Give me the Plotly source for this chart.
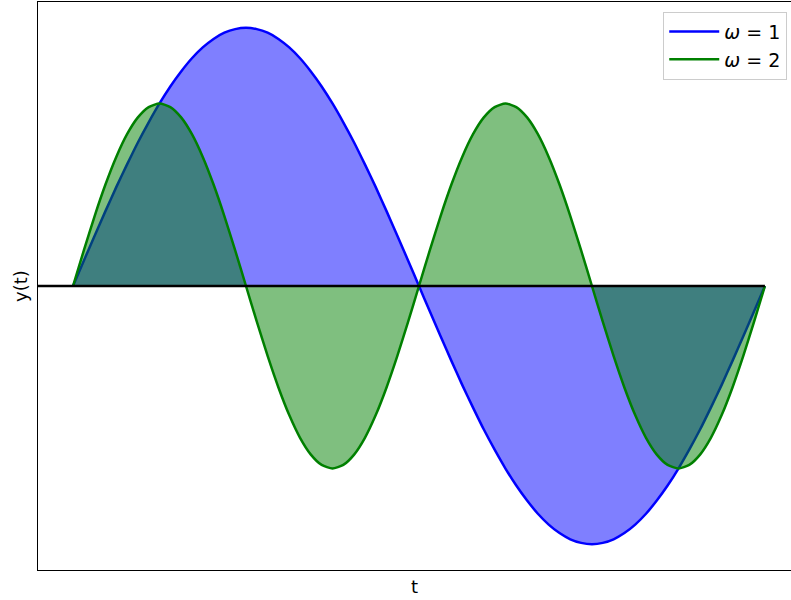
import plotly.graph_objects as go
import math

# t samples (step pi/32 from 0 to 2*pi)
t = [k * math.pi / 32 for k in range(65)]
# omega = 1 curve values
y_w1 = [0.000, 0.098, 0.195, 0.290, 0.383, 0.471, 0.556, 0.634, 0.707, 0.773, 0.831, 0.882, 0.924, 0.957, 0.981, 0.995, 1.000,
        0.995, 0.981, 0.957, 0.924, 0.882, 0.831, 0.773, 0.707, 0.634, 0.556, 0.471, 0.383, 0.290, 0.195, 0.098, 0.000,
        -0.098, -0.195, -0.290, -0.383, -0.471, -0.556, -0.634, -0.707, -0.773, -0.831, -0.882, -0.924, -0.957, -0.981, -0.995, -1.000,
        -0.995, -0.981, -0.957, -0.924, -0.882, -0.831, -0.773, -0.707, -0.634, -0.556, -0.471, -0.383, -0.290, -0.195, -0.098, 0.000]
# omega = 2 curve values
y_w2 = [0.000, 0.138, 0.271, 0.393, 0.500, 0.588, 0.653, 0.693, 0.707, 0.693, 0.653, 0.588, 0.500, 0.393, 0.271, 0.138,
        0.000, -0.138, -0.271, -0.393, -0.500, -0.588, -0.653, -0.693, -0.707, -0.693, -0.653, -0.588, -0.500, -0.393, -0.271, -0.138,
        0.000, 0.138, 0.271, 0.393, 0.500, 0.588, 0.653, 0.693, 0.707, 0.693, 0.653, 0.588, 0.500, 0.393, 0.271, 0.138,
        0.000, -0.138, -0.271, -0.393, -0.500, -0.588, -0.653, -0.693, -0.707, -0.693, -0.653, -0.588, -0.500, -0.393, -0.271, -0.138, 0.000]
labels = ["<i>ω</i> = 1", "<i>ω</i> = 2"]
colors = ["blue", "green"]
fills = ["rgba(0,0,255,0.5)", "rgba(0,128,0,0.5)"]

fig = go.Figure()
for ys, c, f in zip([y_w1, y_w2], colors, fills):
    fig.add_trace(go.Scatter(x=t, y=ys, mode="lines", line=dict(color=c, width=2.5, shape="spline", smoothing=0.6),
                             fill="tozeroy", fillcolor=f, showlegend=False, hoverinfo="skip"))
for lab, c in zip(labels, colors):
    fig.add_trace(go.Scatter(x=[None], y=[None], mode="lines", line=dict(color=c, width=2.5), name=lab))

x_lo = -0.318
x_hi = 6.520
fig.add_shape(type="line", xref="x", yref="y", x0=x_lo, x1=2 * math.pi, y0=0, y1=0,
              line=dict(color="black", width=2.5), layer="above")

fig.update_layout(
    width=791, height=600,
    margin=dict(l=38, r=0, t=2, b=30),
    plot_bgcolor="white", paper_bgcolor="white",
    font=dict(family="DejaVu Sans", size=17, color="black"),
    showlegend=True,
    legend=dict(x=0.995, y=0.983, xanchor="right", yanchor="top",
                bgcolor="rgba(255,255,255,0.8)", bordercolor="#cccccc", borderwidth=1,
                font=dict(size=19), tracegroupgap=4, itemwidth=50),
    xaxis=dict(range=[x_lo, x_hi], showticklabels=False, ticks="", showgrid=False, zeroline=False,
               showline=True, mirror=True, linecolor="black", linewidth=1.2,
               title=dict(text="t", standoff=10, font=dict(size=18))),
    yaxis=dict(range=[-1.1, 1.1], showticklabels=False, ticks="", showgrid=False, zeroline=False,
               showline=True, linecolor="black", linewidth=1.2,
               title=dict(text="y(t)", standoff=4, font=dict(size=18))),
)

fig.write_html("out.html")
